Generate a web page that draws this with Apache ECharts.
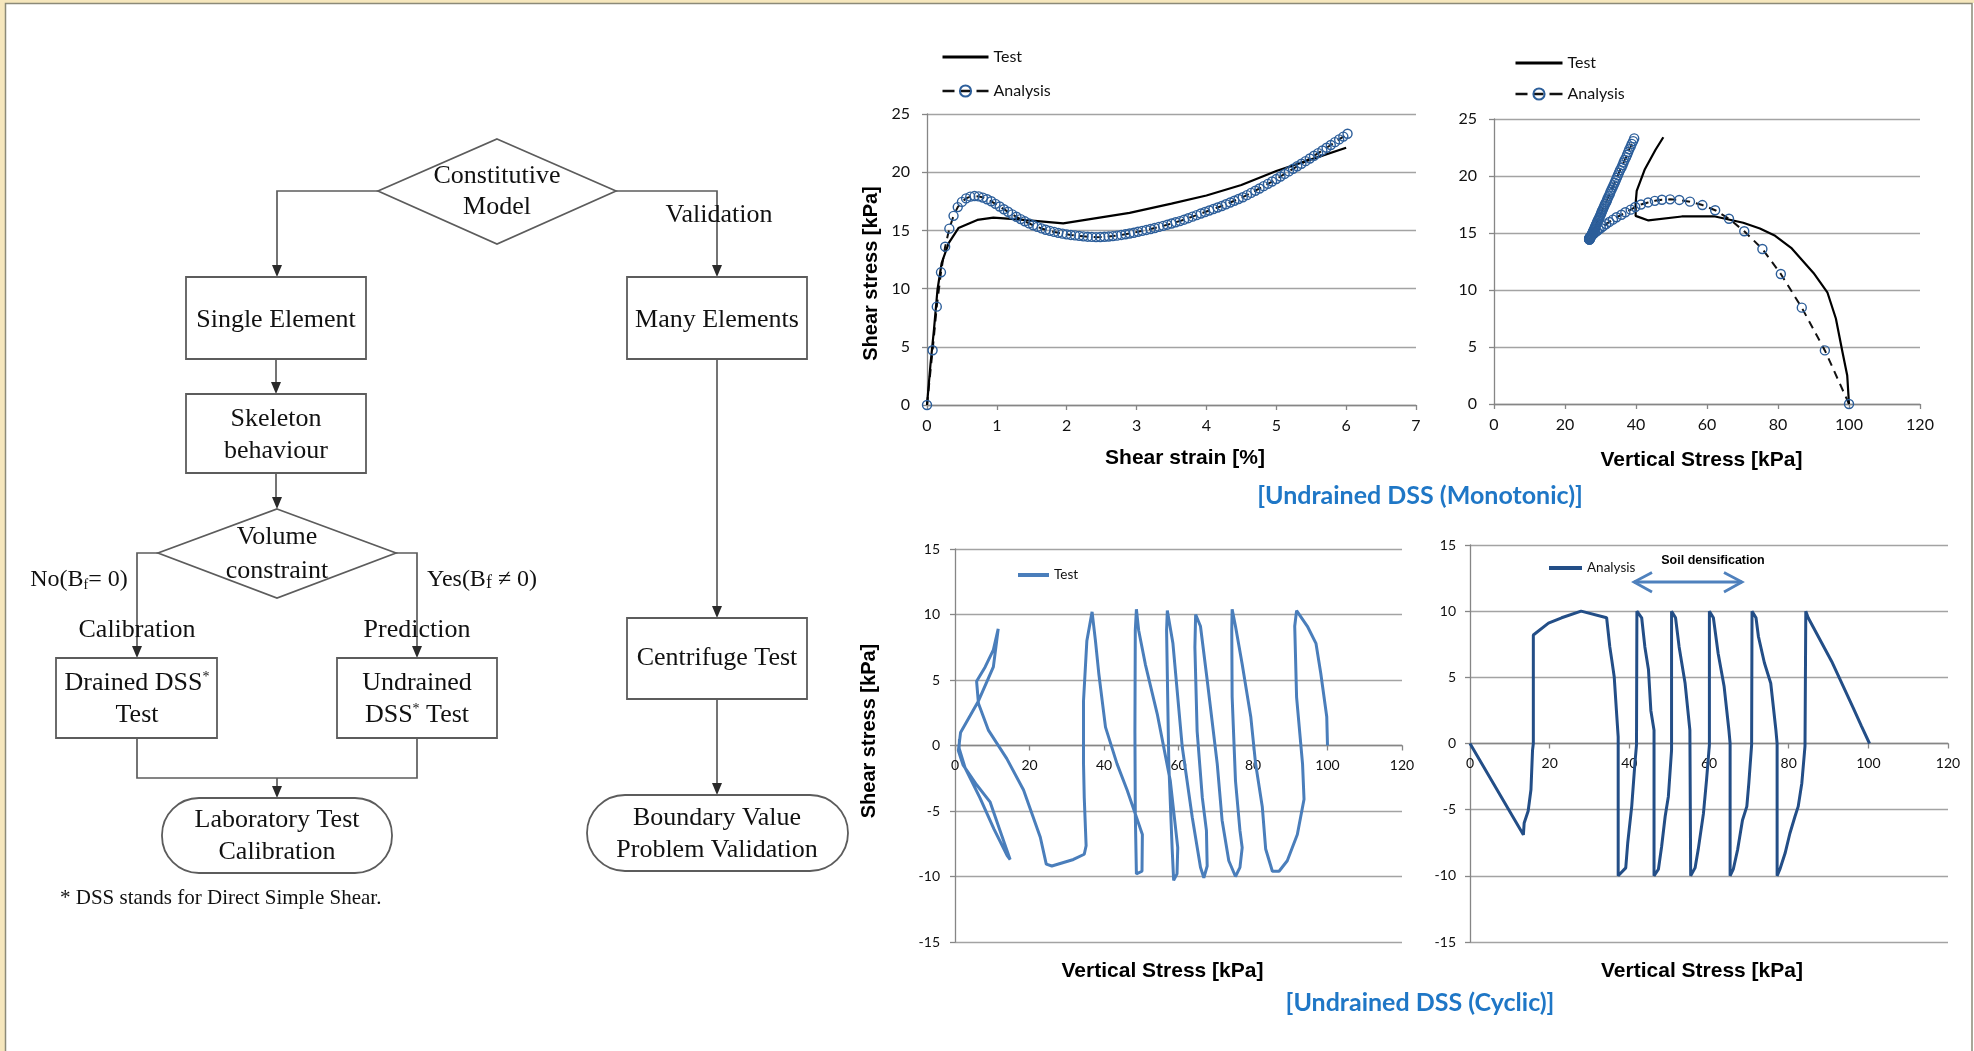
<!DOCTYPE html>
<html><head><meta charset="utf-8">
<script src="https://cdn.jsdelivr.net/npm/echarts@6/dist/echarts.min.js"></script>
<style>html,body{margin:0;padding:0;background:#fff}#c{width:1974px;height:1051px}</style>
</head><body><div id="c"></div>
<script>
// ---------------- DATA ----------------
// Monotonic test: shear strain [%] vs shear stress [kPa]
const monoTestStrain = [0, 0.05, 0.1, 0.15, 0.21, 0.31, 0.45, 0.72, 0.95, 1.3, 1.95, 2.9, 3.5, 4.0, 4.5, 5.0, 5.5, 6.0];
const monoTestShear  = [0, 3.5, 6.5, 9.9, 12.2, 13.9, 15.2, 15.9, 16.1, 15.95, 15.6, 16.5, 17.3, 18.0, 18.9, 20.1, 21.1, 22.1];
// Monotonic test stress path: vertical stress vs shear stress
const monoTestVert   = [100, 99.5, 98.2, 96.3, 93.9, 90.0, 83.7, 79.2, 74.9, 70.2, 62.3, 52.9, 43.5, 39.9, 39.9, 40.2, 42.5, 45.5, 47.7];
const monoTestTau    = [0, 2.5, 4.5, 7.5, 9.8, 11.5, 13.7, 14.75, 15.4, 15.9, 16.45, 16.45, 16.1, 16.5, 17.6, 18.7, 20.6, 22.3, 23.4];
// Monotonic analysis (same points feed both panels)
const anaStrain = [0, 0.08, 0.14, 0.20, 0.26, 0.32, 0.38, 0.44, 0.50, 0.56, 0.62, 0.68, 0.74, 0.80, 0.86, 0.92, 0.98, 1.04, 1.10, 1.16,
  1.22, 1.28, 1.34, 1.40, 1.46, 1.52, 1.58, 1.64, 1.70, 1.76, 1.82, 1.88, 1.94, 2.00, 2.06, 2.12, 2.18, 2.24, 2.30, 2.36,
  2.42, 2.48, 2.54, 2.60, 2.66, 2.72, 2.78, 2.84, 2.90, 2.96, 3.02, 3.08, 3.14, 3.20, 3.26, 3.32, 3.38, 3.44, 3.50, 3.56,
  3.62, 3.68, 3.74, 3.80, 3.86, 3.92, 3.98, 4.04, 4.10, 4.16, 4.22, 4.28, 4.34, 4.40, 4.46, 4.52, 4.58, 4.64, 4.70, 4.76,
  4.82, 4.88, 4.94, 5.00, 5.06, 5.12, 5.18, 5.24, 5.30, 5.36, 5.42, 5.48, 5.54, 5.60, 5.66, 5.72, 5.78, 5.84, 5.90, 5.96, 6.02];
const anaShear = [0, 4.7, 8.45, 11.4, 13.6, 15.15, 16.25, 17.0, 17.45, 17.75, 17.9, 17.95, 17.92, 17.82, 17.68, 17.5, 17.28, 17.05, 16.82, 16.6,
  16.38, 16.17, 15.97, 15.78, 15.6, 15.44, 15.3, 15.17, 15.06, 14.96, 14.87, 14.79, 14.72, 14.66, 14.61, 14.57, 14.53, 14.49, 14.46, 14.44,
  14.42, 14.43, 14.45, 14.48, 14.51, 14.55, 14.61, 14.67, 14.73, 14.8, 14.88, 14.96, 15.04, 15.12, 15.21, 15.3, 15.39, 15.49, 15.59, 15.7,
  15.8, 15.92, 16.05, 16.18, 16.31, 16.45, 16.58, 16.71, 16.84, 16.97, 17.1, 17.25, 17.4, 17.55, 17.7, 17.85, 18.03, 18.22, 18.41, 18.6,
  18.8, 19.0, 19.2, 19.41, 19.63, 19.85, 20.07, 20.29, 20.51, 20.73, 20.95, 21.18, 21.41, 21.64, 21.87, 22.1, 22.34, 22.58, 22.82, 23.06, 23.3];
const anaVert = [100, 93.2, 86.7, 80.8, 75.6, 70.5, 66.2, 62.3, 58.7, 55.2, 52.2, 49.6, 47.3, 45.3, 43.4, 41.4, 39.8, 38.5, 37.0, 35.9,
  34.5, 33.5, 32.5, 31.6, 30.8, 30.1, 29.5, 29.0, 28.5, 28.1, 27.8, 27.5, 27.3, 27.1, 27.0, 26.9, 26.8, 26.8, 26.8, 26.8,
  26.9, 26.9, 26.9, 27.0, 27.0, 27.1, 27.2, 27.3, 27.3, 27.4, 27.6, 27.7, 27.8, 27.9, 28.0, 28.2, 28.3, 28.4, 28.6, 28.7,
  28.9, 29.0, 29.2, 29.4, 29.6, 29.8, 30.0, 30.2, 30.3, 30.5, 30.7, 30.9, 31.1, 31.3, 31.6, 31.8, 32.0, 32.3, 32.6, 32.8,
  33.1, 33.4, 33.7, 34.0, 34.3, 34.6, 34.9, 35.2, 35.5, 35.9, 36.2, 36.5, 36.8, 37.2, 37.5, 37.8, 38.1, 38.5, 38.8, 39.2, 39.5];
// Cyclic test path: vertical stress vs shear stress
const cycTestVert = [100, 99.8, 98.2, 96.9, 94.6, 91.7, 91.2, 91.7, 93.3, 93.7, 91.9, 89.2, 87.0, 85.2,
  83.4, 82.5, 80.7, 79.4, 77.1, 75.3, 74.4,
  74.3, 74.4, 75.3, 76.5, 77.1, 76.5, 75.3, 73.5, 71.7, 70.4, 67.7, 65.9, 64.6,
  64.4, 65.0, 66.4, 67.5, 67.7, 66.8, 65.9, 63.7, 61.0, 58.5, 57.0,
  56.8, 57.4, 58.3, 58.7, 59.6, 59.8, 57.8, 54.3, 51.1, 49.3, 48.7,
  48.4, 48.3, 48.4, 48.7, 50.2, 50.3, 46.2, 43.5, 40.4, 38.6, 37.7, 36.8,
  35.4, 34.5, 34.5, 34.7, 35.2, 34.7, 31.8, 26.0, 24.5,
  22.9, 18.4, 13.9, 9.0, 6.3, 5.8, 8.1, 10.3, 11.6,
  10.3, 6.3, 1.5, 0.9, 2.2, 5.8, 9.4, 12.1, 14.8, 14.0, 10.5, 6.7, 2.7, 1.1, 1.2];
const cycTestTau = [0, 2.2, 5.5, 7.8, 9.1, 10.3, 9.1, 3.7, -1.4, -4.1, -6.8, -8.8, -9.6, -9.6,
  -7.9, -4.7, -1.4, 2.2, 6.2, 9.1, 10.4,
  8.8, 3.7, -2.7, -6.5, -7.8, -9.3, -10.0, -8.8, -5.7, -1.4, 5.0, 9.1, 10.0,
  7.5, 1.1, -4.0, -6.5, -9.2, -10.1, -9.3, -5.5, -0.1, 7.8, 10.3,
  8.8, -1.4, -7.9, -10.3, -9.8, -7.8, -2.7, 2.4, 6.2, 8.8, 10.4,
  8.8, 1.1, -5.2, -9.8, -9.6, -6.8, -3.4, -1.4, 1.4, 5.5, 8.0, 10.2,
  8.0, 3.4, -1.4, -4.0, -7.65, -8.3, -8.7, -9.2, -9.05,
  -7.0, -3.4, -1.0, 1.15, 3.2, 4.9, 6.0, 7.3, 8.9,
  6.0, 3.4, 1.0, -0.4, -1.5, -3.0, -4.3, -6.5, -8.7, -8.4, -6.4, -4.0, -1.7, -0.2, 0.5];
// Cyclic analysis path
const cycAnaVert = [0, 13.4, 13.6, 14.6, 15.3, 15.7, 15.9, 15.9, 19.7, 23.0, 27.9, 34.3, 35.1, 35.6, 36.2, 36.8, 37.2, 37.2,
  39.1, 39.6, 40.6, 41.4, 41.8, 41.9, 43.1, 43.9, 44.8, 45.4, 46.2, 46.2,
  47.3, 48.1, 49.0, 49.8, 50.6, 50.6, 51.6, 52.5, 54.0, 55.2, 55.4,
  56.5, 57.3, 58.6, 59.4, 60.1, 60.1, 61.1, 62.3, 63.8, 65.0, 65.3, 65.3,
  66.1, 67.2, 68.4, 69.5, 70.0, 70.7, 70.8, 71.8, 72.4, 73.9, 75.5, 76.8, 77.1, 77.1,
  77.8, 79.1, 80.3, 81.6, 82.4, 83.3, 84.1, 84.3, 84.9, 90.8, 96.2, 98.3, 100.3];
const cycAnaTau = [0, -6.9, -6.0, -5.1, -3.5, -0.5, 0, 8.2, 9.1, 9.5, 10.0, 9.5, 7.3, 6.3, 5.05, 2.3, 0.5, -10.0,
  -9.4, -7.5, -4.75, -1.5, -0.1, 10.0, 9.5, 7.3, 5.6, 2.5, 1.0, -10.0,
  -9.5, -7.8, -5.5, -4.0, -0.5, 10.0, 9.5, 7.3, 4.55, 1.0, -10.0,
  -9.4, -8.0, -5.3, -2.7, -0.1, 10.0, 9.5, 6.8, 4.3, 1.0, 0, -10.0,
  -9.5, -8.0, -5.8, -4.75, -3.0, -0.1, 10.0, 9.5, 8.1, 6.1, 4.55, 1.0, 0, -10.0,
  -9.5, -8.3, -6.8, -5.5, -4.75, -3.0, -0.2, 10.0, 9.5, 6.2, 2.7, 1.3, 0];
// Tick settings
const monoStrainTicks = {min: 0, max: 7, step: 1};
const stressTicks = {min: 0, max: 120, step: 20};
const monoTauTicks = {min: 0, max: 25, step: 5};
const cycTauTicks = {min: -15, max: 15, step: 5};

// ---------------- HELPERS ----------------
const zip = (a, b) => a.map((v, i) => [v, b[i]]);
const AX = '#868686', GRID = '#a3a3a3';
const LBL = 'Lato';
function xAx(g, t, name, nameGap, fs, pad, offset) {
  return {gridIndex: g, type: 'value', min: t.min, max: t.max, interval: t.step, offset: offset || 0,
    axisLine: {show: true, onZero: false, lineStyle: {color: AX, width: 1.3}},
    axisTick: {show: true, length: 5, lineStyle: {color: AX, width: 1.3}},
    splitLine: {show: false},
    axisLabel: {margin: 13, color: '#111', fontFamily: LBL, fontSize: fs, showMaxLabel: true, showMinLabel: true},
    name: name, nameLocation: 'middle', nameGap: nameGap,
    nameTextStyle: {fontFamily: 'Liberation Sans', fontWeight: 'bold', fontSize: 21, color: '#000', padding: pad}};
}
function yAx(g, t, name, nameGap, fs, margin, pad) {
  return {gridIndex: g, type: 'value', min: t.min, max: t.max, interval: t.step,
    axisLine: {show: true, onZero: false, lineStyle: {color: AX, width: 1.3}},
    axisTick: {show: true, length: 5, lineStyle: {color: AX, width: 1.3}},
    splitLine: {show: true, lineStyle: {color: GRID, width: 1.3}},
    axisLabel: {margin: margin, color: '#111', fontFamily: LBL, fontSize: fs},
    name: name, nameLocation: 'middle', nameGap: nameGap, nameRotate: 90,
    nameTextStyle: {fontFamily: 'Liberation Sans', fontWeight: 'bold', fontSize: 20, color: '#000', padding: pad}};
}

// ---------------- FLOWCHART (graphic) ----------------
const FC = '#5c5c5c', SER = '"Liberation Serif", "DejaVu Serif", serif';
const G = [];
function pl(pts) { G.push({type: 'polyline', shape: {points: pts}, style: {stroke: FC, lineWidth: 1.7, fill: null}, silent: true}); }
function arr(x, y) { G.push({type: 'polygon', shape: {points: [[x - 5, y - 12], [x + 5, y - 12], [x, y]]}, style: {fill: '#2a2a2a'}, silent: true}); }
function box(x, y, w, h, r) { G.push({type: 'rect', shape: {x: x, y: y, width: w, height: h, r: r || 0}, style: {stroke: FC, lineWidth: 1.8, fill: '#fff'}, silent: true}); }
function tx(s, x, y, size, extra) {
  G.push(Object.assign({type: 'text', x: x, y: y, silent: true,
    style: Object.assign({text: s, font: (size || 26) + 'px ' + SER, fill: '#111', align: 'center', verticalAlign: 'middle'}, extra || {})}));
}
// frame
G.push({type: 'rect', shape: {x: 0, y: 0, width: 5, height: 1051}, style: {fill: '#f6e7bd'}, silent: true});
G.push({type: 'rect', shape: {x: 0, y: 0, width: 1974, height: 3}, style: {fill: '#f6e7bd'}, silent: true});
G.push({type: 'polyline', shape: {points: [[5.5, 1051], [5.5, 3.5], [1972, 3.5], [1972, 1051]]}, style: {stroke: '#8c8a78', lineWidth: 1.5, fill: null}, silent: true});
// top diamond
G.push({type: 'polygon', shape: {points: [[497, 139], [616, 191], [497, 244], [378, 191]]}, style: {stroke: FC, lineWidth: 1.7, fill: '#fff'}, silent: true});
tx('Constitutive', 497, 176); tx('Model', 497, 207);
pl([[378, 191], [277, 191], [277, 266]]); arr(277, 277);
pl([[616, 191], [717, 191], [717, 266]]); arr(717, 277);
tx('Validation', 719, 215);
// left column
box(186, 277, 180, 82); tx('Single Element', 276, 320);
pl([[276, 359], [276, 383]]); arr(276, 394);
box(186, 394, 180, 79); tx('Skeleton', 276, 419); tx('behaviour', 276, 451);
pl([[276, 473], [276, 498]]); arr(277, 509);
G.push({type: 'polygon', shape: {points: [[277, 509], [396, 553], [277, 598], [158, 553]]}, style: {stroke: FC, lineWidth: 1.7, fill: '#fff'}, silent: true});
tx('Volume', 277, 537); tx('constraint', 277, 571);
pl([[158, 553], [137, 553], [137, 647]]); arr(137, 658);
pl([[396, 553], [417, 553], [417, 647]]); arr(417, 658);
tx('No(B{s|f}= 0)', 79, 580, 24, {rich: {s: {fontSize: 14, fontFamily: SER, padding: [10, 0, 0, 0]}}});
tx('Yes(B{s|f} \u2260 0)', 482, 580, 24, {rich: {s: {fontSize: 18, fontFamily: SER, padding: [6, 0, 0, 0]}}});
tx('Calibration', 137, 630); tx('Prediction', 417, 630);
box(56, 658, 161, 80); tx('Drained DSS{u|*}', 137, 683, 26, {rich: {u: {fontSize: 14, fontFamily: SER, padding: [0, 0, 12, 0]}}}); tx('Test', 137, 715);
box(337, 658, 160, 80); tx('Undrained', 417, 683); tx('DSS{u|*} Test', 417, 715, 26, {rich: {u: {fontSize: 14, fontFamily: SER, padding: [0, 0, 12, 0]}}});
pl([[137, 738], [137, 778], [417, 778], [417, 738]]);
pl([[277, 778], [277, 787]]); arr(277, 798);
box(162, 798, 230, 75, 37); tx('Laboratory Test', 277, 820); tx('Calibration', 277, 852);
tx('* DSS stands for Direct Simple Shear.', 60, 898, 21, {align: 'left'});
// right column
box(627, 277, 180, 82); tx('Many Elements', 717, 320);
pl([[717, 359], [717, 607]]); arr(717, 618);
box(627, 618, 180, 81); tx('Centrifuge Test', 717, 658);
pl([[717, 699], [717, 784]]); arr(717, 795);
box(587, 795, 261, 76, 38); tx('Boundary Value', 717, 818); tx('Problem Validation', 717, 850);
// panel titles and annotation
const TITLE = {font: 'bold 25px Lato', fill: '#1f77c6', align: 'center', verticalAlign: 'middle'};
G.push({type: 'text', x: 1420, y: 496, silent: true, style: Object.assign({text: '[Undrained DSS (Monotonic)]'}, TITLE)});
G.push({type: 'text', x: 1420, y: 1003, silent: true, style: Object.assign({text: '[Undrained DSS (Cyclic)]'}, TITLE)});
G.push({type: 'text', x: 1713, y: 561, silent: true, style: {text: 'Soil densification', font: 'bold 12.5px "Liberation Sans"', fill: '#000', align: 'center', verticalAlign: 'middle'}});
const AR = '#4f81bd';
G.push({type: 'polyline', shape: {points: [[1634, 582], [1742, 582]]}, style: {stroke: AR, lineWidth: 2.8}, silent: true});
G.push({type: 'polyline', shape: {points: [[1652, 572.5], [1634, 582], [1652, 592]]}, style: {stroke: AR, lineWidth: 2.8, fill: null}, silent: true});
G.push({type: 'polyline', shape: {points: [[1724, 572.5], [1742, 582], [1724, 592]]}, style: {stroke: AR, lineWidth: 2.8, fill: null}, silent: true});

// ---------------- CHART ----------------
const chart = echarts.init(document.getElementById('c'));
const legendBase = {orient: 'vertical', selectedMode: false, padding: 0, formatter: n => n.split('_')[0]};
const noSym = {opacity: 0};
const anaLegendLine = {width: 2.6, type: [12, 6, 10, 6, 12, 0]};
chart.setOption({
  animation: false,
  backgroundColor: '#fff',
  grid: [
    {left: 927, top: 114, width: 489, height: 291, outerBoundsMode: 'none', containLabel: false},
    {left: 1494, top: 119, width: 426, height: 285, outerBoundsMode: 'none', containLabel: false},
    {left: 955, top: 549, width: 447, height: 393, outerBoundsMode: 'none', containLabel: false},
    {left: 1470, top: 545, width: 478, height: 397, outerBoundsMode: 'none', containLabel: false}
  ],
  xAxis: [
    xAx(0, monoStrainTicks, 'Shear strain [%]', 43, 16, [0, 0, 0, 27], 0),
    xAx(1, stressTicks, 'Vertical Stress [kPa]', 46, 16, [0, 11, 0, 0], 0),
    xAx(2, stressTicks, 'Vertical Stress [kPa]', 215, 14, [0, 32, 0, 0], -196.5),
    xAx(3, stressTicks, 'Vertical Stress [kPa]', 217, 14, [0, 14, 0, 0], -198.5)
  ],
  yAxis: [
    yAx(0, monoTauTicks, 'Shear stress [kPa]', 46, 16, 17, [0, 28, 0, 0]),
    yAx(1, monoTauTicks, '', 0, 16, 17, 0),
    yAx(2, cycTauTicks, 'Shear stress [kPa]', 76, 14, 15, [0, 0, 0, 29]),
    yAx(3, cycTauTicks, '', 0, 14, 14, 0)
  ],
  legend: [
    Object.assign({}, legendBase, {left: 941, top: 49, itemWidth: 46, itemHeight: 14, itemGap: 18,
      data: [{name: 'Test', itemStyle: noSym, lineStyle: {width: 3}}, {name: 'Analysis', lineStyle: anaLegendLine}],
      textStyle: {fontFamily: LBL, fontSize: 16, color: '#111'}}),
    Object.assign({}, legendBase, {left: 1514, top: 55, itemWidth: 47, itemHeight: 14, itemGap: 15,
      data: [{name: 'Test_2', itemStyle: noSym, lineStyle: {width: 3}}, {name: 'Analysis_2', lineStyle: anaLegendLine}],
      textStyle: {fontFamily: LBL, fontSize: 16, color: '#111'}}),
    Object.assign({}, legendBase, {left: 1016, top: 568, itemWidth: 31, itemHeight: 12,
      data: [{name: 'Test_c', itemStyle: noSym, lineStyle: {width: 4}}], textStyle: {fontFamily: LBL, fontSize: 13.5, color: '#111'}}),
    Object.assign({}, legendBase, {left: 1547, top: 561, itemWidth: 33, itemHeight: 12,
      data: [{name: 'Analysis_c', itemStyle: noSym, lineStyle: {width: 4}}], textStyle: {fontFamily: LBL, fontSize: 13.5, color: '#111'}})
  ],
  series: [
    {name: 'Analysis', type: 'line', xAxisIndex: 0, yAxisIndex: 0, data: zip(anaStrain, anaShear),
      lineStyle: {color: '#111', width: 2, type: [8, 6]}, symbol: 'circle', symbolSize: 9,
      itemStyle: {color: 'rgba(255,255,255,0)', borderColor: '#2c5e9a', borderWidth: 1.4}},
    {name: 'Test', type: 'line', xAxisIndex: 0, yAxisIndex: 0, data: zip(monoTestStrain, monoTestShear),
      symbol: 'none', lineStyle: {color: '#000', width: 2.2}, itemStyle: {color: '#000'}},
    {name: 'Analysis_2', type: 'line', xAxisIndex: 1, yAxisIndex: 1, data: zip(anaVert, anaShear),
      lineStyle: {color: '#111', width: 2, type: [8, 6]}, symbol: 'circle', symbolSize: 9,
      itemStyle: {color: 'rgba(255,255,255,0)', borderColor: '#2c5e9a', borderWidth: 1.4}},
    {name: 'Test_2', type: 'line', xAxisIndex: 1, yAxisIndex: 1, data: zip(monoTestVert, monoTestTau),
      symbol: 'none', lineStyle: {color: '#000', width: 2.2}, itemStyle: {color: '#000'}},
    {name: 'Test_c', type: 'line', xAxisIndex: 2, yAxisIndex: 2, data: zip(cycTestVert, cycTestTau),
      symbol: 'none', lineStyle: {color: '#4a7ebb', width: 3}, itemStyle: {color: '#4a7ebb'}},
    {name: 'Analysis_c', type: 'line', xAxisIndex: 3, yAxisIndex: 3, data: zip(cycAnaVert, cycAnaTau),
      symbol: 'none', lineStyle: {color: '#234e87', width: 3}, itemStyle: {color: '#234e87'}}
  ],
  graphic: G
});
</script></body></html>
